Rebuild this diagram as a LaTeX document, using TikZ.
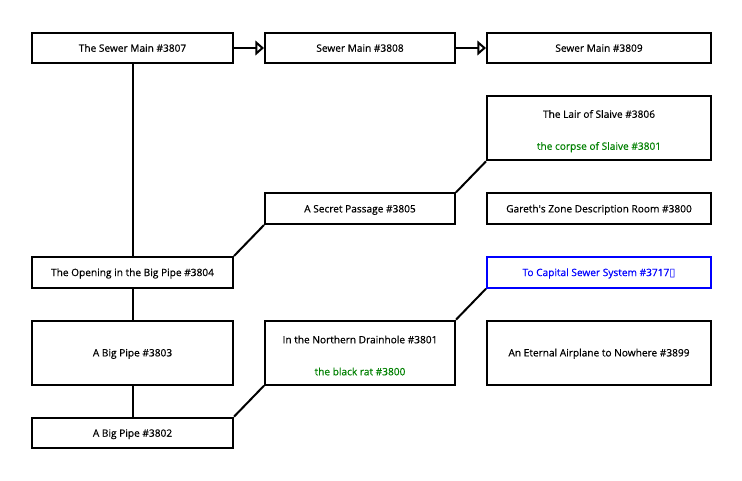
\documentclass[tikz,border=0pt]{standalone}
\usepackage{fontspec}
\setmainfont{Open Sans}
\newfontfamily\roomfont{Open Sans}[FakeBold=0.5]
\newfontfamily\boxglyph{DejaVu Sans}
\usetikzlibrary{arrows.meta,positioning}
\definecolor{itemgreen}{RGB}{0,128,0}
\definecolor{exitblue}{RGB}{0,0,255}
\newcommand{\roomtop}{\rule{0pt}{10pt}}

\begin{document}
\begin{tikzpicture}[x=0.75pt,y=-0.75pt,>={Triangle[open,length=6.5pt,width=11pt]},node distance=23.25pt and 22.5pt,
		room/.style={draw,rectangle,line width=1.5pt,inner sep=0pt,minimum height=23pt,align=center,font=\roomfont\fontsize{7.6}{9}\selectfont},
		line/.style={text height=5.6pt,text depth=0pt},
		colA/.style={room,minimum width=150.75pt},
		colB/.style={room,minimum width=142.5pt},
		colC/.style={room,minimum width=168pt},
		tall/.style={minimum height=48pt},
		exit/.style={draw=exitblue,text=exitblue},
		link/.style={line width=1.5pt}]
		\useasboundingbox (0,0) rectangle (742,480);
		\node[colA,line] (r3807) at (132.5,48) {The Sewer Main \#3807};
		\node[colB,line] [right=of r3807] (r3808) {Sewer Main \#3808};
		\node[colC,line] [right=of r3808] (r3809) {Sewer Main \#3809};
		\node[colC,tall] [below=of r3809] (r3806) {\roomtop The Lair of Slaive \#3806\\[15pt]\textcolor{itemgreen}{the corpse of Slaive \#3801}};
		\node[colC,line] [below=of r3806] (r3800) {Gareth\textquotesingle s Zone Description Room \#3800};
		\node[colC,line,exit] [below=of r3800] (r3717) {To Capital Sewer System \#3717{\boxglyph\fontsize{8.4}{9}\selectfont ▯}};
		\node[colC,tall,line] [below=of r3717] (r3899) {An Eternal Airplane to Nowhere \#3899};
		\node[colB,line] [left=of r3800] (r3805) {A Secret Passage \#3805};
		\node[colB,tall] [left=of r3899] (r3801) {\roomtop In the Northern Drainhole \#3801\\[15pt]\textcolor{itemgreen}{the black rat \#3800}};
		\node[colA,line] at (r3807 |- r3717) (r3804) {The Opening in the Big Pipe \#3804};
		\node[colA,tall,line] [left=of r3801] (r3803) {A Big Pipe \#3803};
		\node[colA,line] [below=of r3803] (r3802) {A Big Pipe \#3802};
		\draw[link,->] (r3807) -- (r3808);
		\draw[link,->] (r3808) -- (r3809);
		\draw[link] (r3807) -- (r3804);
		\draw[link] (r3804.north east) -- (r3805.south west);
		\draw[link] (r3805.north east) -- (r3806.south west);
		\draw[link] (r3804) -- (r3803);
		\draw[link] (r3803) -- (r3802);
		\draw[link] (r3802.north east) -- (r3801.south west);
		\draw[link] (r3801.north east) -- (r3717.south west);
	\end{tikzpicture}
\end{document}
